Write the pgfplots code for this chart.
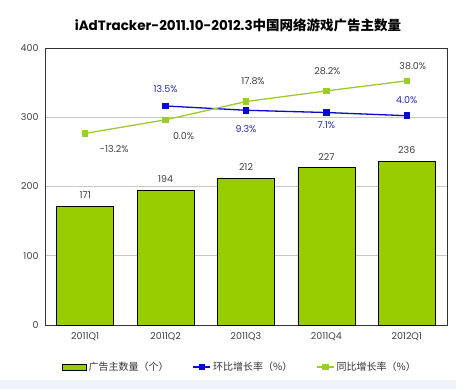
\documentclass[border=0pt]{standalone}
\usepackage{pgfplots}
\pgfplotsset{compat=1.18}
\usepackage{pgfplotstable}
\usepackage{fontspec}
\setmainfont{Poppins}
\newfontfamily\cjk{Noto Sans CJK SC}
\definecolor{barg}{HTML}{99CC00}
\definecolor{lblue}{HTML}{0A0ACC}
\definecolor{lgreen}{HTML}{9CCB2C}
\definecolor{lbltxt}{HTML}{2A2AB0}
\definecolor{gridc}{HTML}{C8C8C8}
\definecolor{strip}{HTML}{EEF2F9}

\pgfplotstableread{
x y
0 171
1 194
2 212
3 227
4 236
}\bars

\pgfplotstableread{
x y lab dx dy
1 13.5 13.5 0 17
2 9.3 9.3 0 -19
3 7.1 7.1 0 -13
4 4.0 4.0 0 16
}\hb

\pgfplotstableread{
x y lab dx dy
0 -13.2 -13.2 29 -16
1 0.0 0.0 18 -16
2 17.8 17.8 7 20
3 28.2 28.2 1 20
4 38.0 38.0 6 15
}\tb

\begin{document}
\begin{tikzpicture}[x=1pt,y=1pt]
\fill[white] (-45,-64) rectangle (411,325);
\fill[strip] (-45,-64) rectangle (411,-55);
\path[use as bounding box] (-45,-64) rectangle (411,325);
\node[font=\fontsize{13.5}{15}\selectfont\bfseries] at (193,300) {iAdTracker-2011.10-2012.3{\cjk 中国网络游戏广告主数量}};
\begin{axis}[
  scale only axis, width=402pt, height=277pt,
  xmin=-0.5, xmax=4.5, ymin=0, ymax=400,
  xtick={0,1,2,3,4},
  xticklabels={2011Q1,2011Q2,2011Q3,2011Q4,2012Q1},
  ytick={0,100,200,300,400},
  major tick length=0pt,
  ymajorgrids, grid style={gridc, line width=0.9pt},
  axis line style={black!80, line width=0.9pt},
  ticklabel style={font=\fontsize{9.5}{11}\selectfont, text=black!75},
  /pgf/number format/assume math mode=true,
  xticklabel style={yshift=-4pt},
  yticklabel style={xshift=-3pt},
  clip=false,
]
\addplot[ybar, bar width=57pt, fill=barg, draw=black, line width=0.7pt,
  nodes near coords, every node near coord/.append style={font=\fontsize{9.5}{11}\selectfont, text=black!75, yshift=4pt}]
  table[x=x,y=y] {\bars};
\end{axis}
\begin{axis}[
  scale only axis, width=402pt, height=277pt,
  xmin=-0.5, xmax=4.5, ymin=-200, ymax=70,
  hide x axis, hide y axis,
  clip=false,
  legend columns=3,
  legend style={at={(0.485,-0.152)}, anchor=center, draw=none, fill=none,
    font=\fontsize{10}{11}\selectfont\cjk, text=black!80,
    /tikz/every even column/.append style={column sep=22pt}},
  legend cell align=left,
]
\addlegendimage{legend image code/.code={\draw[fill=barg, draw=black, line width=0.7pt] (0pt,-3pt) rectangle (24pt,3pt);}}
\addlegendentry{广告主数量（个）}
\addplot[lblue, line width=1.3pt, mark=square*, mark size=2.6pt, mark options={solid},
  point meta=explicit symbolic,
  nodes near coords={\pgfplotspointmeta\%},
  visualization depends on={\thisrow{dx}\as\dx},
  visualization depends on={\thisrow{dy}\as\dy},
  every node near coord/.append style={anchor=center, xshift=\dx pt, yshift=\dy pt, text=lbltxt, font=\fontsize{9.5}{11}\selectfont}]
  table[x=x,y=y,meta=lab] {\hb};
\addlegendentry{环比增长率（\%）}
\addplot[lgreen, line width=1.3pt, mark=square*, mark size=2.6pt, mark options={solid},
  point meta=explicit symbolic,
  nodes near coords={\pgfplotspointmeta\%},
  visualization depends on={\thisrow{dx}\as\dx},
  visualization depends on={\thisrow{dy}\as\dy},
  every node near coord/.append style={anchor=center, xshift=\dx pt, yshift=\dy pt, text=black!75, font=\fontsize{9.5}{11}\selectfont}]
  table[x=x,y=y,meta=lab] {\tb};
\addlegendentry{同比增长率（\%）}
\end{axis}
\end{tikzpicture}
\end{document}
